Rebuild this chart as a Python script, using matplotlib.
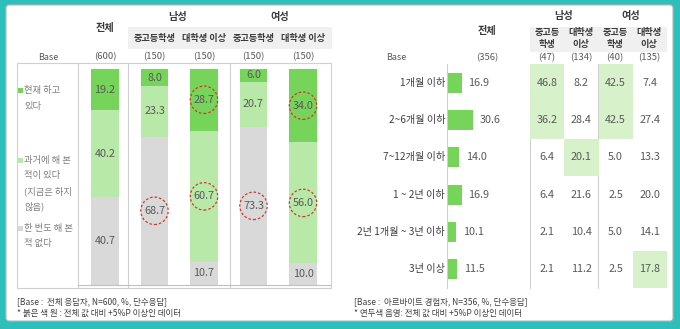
import matplotlib
matplotlib.use('Agg')
import matplotlib.pyplot as plt
from matplotlib.patches import FancyBboxPatch, Rectangle
from matplotlib.colors import ListedColormap
import numpy as np

plt.rcParams['font.family'] = ['Noto Sans CJK KR', 'DejaVu Sans']

# ---------------- data: left chart ----------------
left_groups = ['전체', '중고등학생', '대학생 이상', '중고등학생', '대학생 이상']
left_base = ['(600)', '(150)', '(150)', '(150)', '(150)']
legend_labels = [['현재 하고', '있다'],
                 ['과거에 해 본', '적이 있다', '(지금은 하지', '않음)'],
                 ['한 번도 해 본', '적 없다']]
doing_now = [19.2, 8.0, 28.7, 6.0, 34.0]
did_before = [40.2, 23.3, 60.7, 20.7, 56.0]
never_did = [40.7, 68.7, 10.7, 73.3, 10.0]

# ---------------- data: right chart ----------------
periods = ['1개월 이하', '2~6개월 이하', '7~12개월 이하', '1 ~ 2년 이하',
           '2년 1개월 ~ 3년 이하', '3년 이상']
total_right = [16.9, 30.6, 14.0, 16.9, 10.1, 11.5]
male_mid = [46.8, 36.2, 6.4, 6.4, 2.1, 2.1]
male_uni = [8.2, 28.4, 20.1, 21.6, 10.4, 11.2]
female_mid = [42.5, 42.5, 5.0, 2.5, 5.0, 2.5]
female_uni = [7.4, 27.4, 13.3, 20.0, 14.1, 17.8]
right_sub = ['중고등\n학생', '대학생\n이상', '중고등\n학생', '대학생\n이상']
right_base = ['(356)', '(47)', '(134)', '(40)', '(135)']

# ---------------- style ----------------
TEAL = '#2DBFBB'
DARK_G = '#77D45B'
LIGHT_G = '#B9E9A8'
GRAY = '#D9D9D9'
HIL = '#D7F2CB'
LINE = '#D0D0D0'
TXT = '#595959'
HEAD = '#3A3A3A'
RED = '#D8342C'
VAL_FS = 7.8

W, H = 680, 329
fig = plt.figure(figsize=(6.8, 3.29), dpi=100, facecolor=TEAL)
bg = fig.add_axes([0, 0, 1, 1])
bg.set_xlim(0, W); bg.set_ylim(H, 0); bg.axis('off')


def px_axes(x0, y0, x1, y1):
    a = fig.add_axes([x0 / W, 1 - y1 / H, (x1 - x0) / W, (y1 - y0) / H])
    a.patch.set_visible(False)
    return a


# white panel
bg.add_patch(FancyBboxPatch((6, 5), 667, 316, boxstyle='round,pad=0,rounding_size=3',
                            facecolor='white', edgecolor='#B8B8B8', lw=0.8))

# ============ LEFT PANEL ============
bg.add_patch(Rectangle((128, 27), 204, 22, facecolor='#F0F0F0', edgecolor='none'))
bg.text(105, 28, '전체', ha='center', va='center', fontsize=7.3, fontweight='bold', color=HEAD)
bg.text(178, 17, '남성', ha='center', va='center', fontsize=7.3, fontweight='bold', color=HEAD)
bg.text(280, 17, '여성', ha='center', va='center', fontsize=7.3, fontweight='bold', color=HEAD)
lx = [105, 154.5, 204, 253.5, 303]
for i in range(1, 5):
    bg.text(lx[i], 38, left_groups[i], ha='center', va='center', fontsize=6.6,
            fontweight='bold', color=HEAD)
bg.text(48, 57, 'Base', ha='center', va='center', fontsize=6.5, color=TXT)
for i in range(5):
    bg.text(lx[i], 57, left_base[i], ha='center', va='center', fontsize=6.8, color=TXT)

bg.add_patch(Rectangle((17, 63), 314, 225, facecolor='none', edgecolor=LINE, lw=0.8))
for x in [78, 128, 230]:
    bg.plot([x, x], [63, 288], color=LINE, lw=0.8)

# legend
leg_colors = [DARK_G, LIGHT_G, GRAY]
leg_y = [[90, 107], [160, 175.5, 191, 206.5], [228, 243.5]]
for c, lines, ys in zip(leg_colors, legend_labels, leg_y):
    bg.add_patch(Rectangle((18, ys[0] - 2.5), 5, 5, facecolor=c, edgecolor='none'))
    for t, y in zip(lines, ys):
        bg.text(24, y, t, ha='left', va='center', fontsize=6.7, color='#7F7F7F')

axL = px_axes(78, 69, 330, 285)
xs = np.arange(len(doing_now))
b_never = np.array(never_did)
b_before = b_never + np.array(did_before)
axL.bar(xs, never_did, width=0.55, color=GRAY)
axL.bar(xs, did_before, width=0.55, bottom=b_never, color=LIGHT_G)
axL.bar(xs, doing_now, width=0.55, bottom=b_before, color=DARK_G)
axL.set_xlim(-0.545, 4.545)
axL.set_ylim(0, 100)
axL.set_xticks([]); axL.set_yticks([])
for s in ['top', 'left', 'right']:
    axL.spines[s].set_visible(False)
axL.spines['bottom'].set_color('#BFBFBF')
axL.spines['bottom'].set_linewidth(0.8)

for series, bottoms in [(never_did, np.zeros(5)), (did_before, b_never), (doing_now, b_before)]:
    for i in range(5):
        yc = bottoms[i] + series[i] / 2
        axL.text(xs[i], yc, f'{series[i]:.1f}', ha='center', va='center', fontsize=VAL_FS, color=TXT)
        if i > 0 and series[i] - series[0] >= 5:
            axL.scatter([xs[i]], [yc], s=390, facecolors='none', edgecolors=RED,
                        linewidths=0.9, linestyles=(0, (2, 1.6)), zorder=5, clip_on=False)

bg.text(17, 302, '[Base :  전체 응답자, N=600, %, 단수응답]', ha='left', va='center',
        fontsize=6.1, color='#404040')
bg.text(17, 313, '* 붉은 색 원 : 전체 값 대비 +5%P 이상인 데이터', ha='left', va='center',
        fontsize=6.1, color='#404040')

# ============ RIGHT PANEL ============
bg.add_patch(Rectangle((530, 27), 137, 25, facecolor='#F0F0F0', edgecolor='none'))
bg.text(487, 31, '전체', ha='center', va='center', fontsize=7.3, fontweight='bold', color=HEAD)
bg.text(564, 16, '남성', ha='center', va='center', fontsize=7.3, fontweight='bold', color=HEAD)
bg.text(631, 16, '여성', ha='center', va='center', fontsize=7.3, fontweight='bold', color=HEAD)
rx = [547, 581, 615, 649]
for j, t in enumerate(right_sub):
    l1, l2 = t.split('\n')
    bg.text(rx[j], 33, l1, ha='center', va='center', fontsize=6.6, fontweight='bold', color=HEAD)
    bg.text(rx[j], 44.5, l2, ha='center', va='center', fontsize=6.6, fontweight='bold', color=HEAD)
bg.text(396, 58, 'Base', ha='center', va='center', fontsize=6.5, color=TXT)
for x, t in zip([487] + rx, right_base):
    bg.text(x, 58, t, ha='center', va='center', fontsize=6.8, color=TXT)

# table highlight + values
table = np.array([male_mid, male_uni, female_mid, female_uni]).T  # rows x cols
tot = np.array(total_right)[:, None]
axT = px_axes(530, 64, 667, 288)
mask = np.ma.masked_where(table - tot < 5, np.ones_like(table))
axT.pcolormesh(np.arange(5) - 0.5, np.arange(7) - 0.5, mask, cmap=ListedColormap([HIL]),
               shading='flat')
axT.set_xlim(-0.5, 3.5); axT.set_ylim(5.5, -0.5); axT.axis('off')
for r in range(table.shape[0]):
    for c in range(table.shape[1]):
        axT.text(c, r, f'{table[r, c]:.1f}', ha='center', va='center', fontsize=VAL_FS, color=TXT)

bg.add_patch(Rectangle((354, 64), 313, 224, facecolor='none', edgecolor=LINE, lw=0.8, zorder=0))
for x in [447, 530, 598]:
    bg.plot([x, x], [64, 288], color=LINE, lw=0.8)

axR = px_axes(448, 64, 530, 288)
ys = np.arange(len(total_right))
axR.barh(ys, total_right, height=0.54, color=DARK_G)
axR.set_xlim(0, 100); axR.set_ylim(5.5, -0.5); axR.axis('off')
for y, v in zip(ys, total_right):
    axR.annotate(f'{v:.1f}', (v, y), xytext=(4.5, 0), textcoords='offset points',
                 ha='left', va='center', fontsize=VAL_FS, color=TXT)
for y, lab in zip(ys, periods):
    axR.annotate(lab, (0, y), xytext=(-2, 0), textcoords='offset points', ha='right',
                 va='center', fontsize=7.3, color='#404040')

bg.text(354, 302, '[Base :  아르바이트 경험자, N=356, %, 단수응답]', ha='left', va='center',
        fontsize=6.1, color='#404040')
bg.text(354, 313, '* 연두색 음영: 전체 값 대비 +5%P 이상인 데이터', ha='left', va='center',
        fontsize=6.1, color='#404040')

fig.savefig('out.png', dpi=100, facecolor=TEAL)
